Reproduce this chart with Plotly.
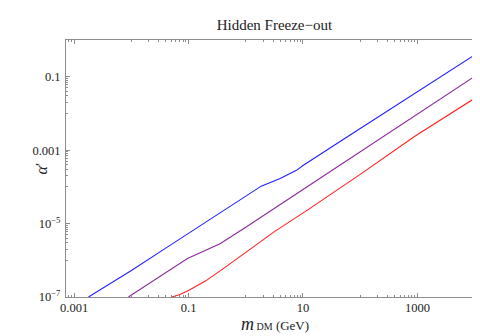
import plotly.graph_objects as go

# log10(m_DM / GeV) and log10(alpha')
blue_logm = [-2.75, -2.5, -2.0, -1.5, -1.0, -0.5, 0.0, 0.27, 0.6, 0.885, 1.0, 1.79, 4.01]
blue_loga = [-7.0, -6.76, -6.28, -5.77, -5.26, -4.76, -4.26, -3.98, -3.77, -3.55, -3.42, -2.62, -0.40]

purple_logm = [-2.052, -1.5, -1.02, -0.45, 0.0, 1.0, 2.37, 4.01]
purple_loga = [-7.0, -6.43, -5.95, -5.55, -5.10, -4.07, -2.66, -0.98]

red_logm = [-1.297, -1.15, -1.0, -0.7, -0.35, 0.04, 0.5, 1.09, 2.0, 2.955, 4.01]
red_loga = [-7.0, -6.93, -6.82, -6.56, -6.18, -5.74, -5.22, -4.62, -3.66, -2.62, -1.58]

x_ticks = [1e-3, 1e-1, 1e1, 1e3]
x_labels = ["0.001", "0.1", "10", "1000"]
y_ticks = [1e-7, 1e-5, 1e-3, 1e-1]
y_labels = ["10<sup>−7</sup>", "10<sup>−5</sup>", "0.001", "0.1"]

SERIF = "Times New Roman, Liberation Serif, DejaVu Serif, serif"
FRAME = "#8c8c8c"


def minor_vals(majors):
    # Mathematica style: minor ticks only in the decade below each major
    out = []
    for v in majors:
        out += [k * v / 10 for k in range(1, 10)]
    return out


fig = go.Figure()
for lm, la, col in [(blue_logm, blue_loga, "#2020ff"),
                    (purple_logm, purple_loga, "#8b2a9b"),
                    (red_logm, red_loga, "#ff2020")]:
    fig.add_trace(go.Scatter(
        x=[10 ** v for v in lm], y=[10 ** v for v in la],
        mode="lines", line=dict(color=col, width=1.1), showlegend=False,
    ))

axis_common = dict(
    type="log", showgrid=False, zeroline=False,
    showline=True, linecolor=FRAME, linewidth=1, mirror="allticks",
    ticks="inside", ticklen=4, tickcolor=FRAME, tickwidth=1,
    tickfont=dict(family=SERIF, size=12.5, color="#222"),
    tickmode="array",
)

fig.update_xaxes(
    range=[-3.143, 4.147], tickvals=x_ticks, ticktext=x_labels,
    ticklabelstandoff=-1,
    minor=dict(tickmode="array", tickvals=minor_vals(x_ticks + [1e5]),
               ticks="inside", ticklen=2, tickcolor=FRAME),
    **axis_common,
)
fig.update_yaxes(
    range=[-7, 0], tickvals=y_ticks, ticktext=y_labels,
    ticklabelstandoff=2,
    minor=dict(tickmode="array", tickvals=minor_vals(y_ticks + [10]),
               ticks="inside", ticklen=2, tickcolor=FRAME),
    **axis_common,
)

fig.add_annotation(
    text=("<i>m</i><span style='font-size:10px'> DM</span>"
          "<span style='font-size:13px'> (GeV)</span>"),
    xref="paper", yref="paper", x=0.5, y=-0.105, yanchor="middle",
    showarrow=False, font=dict(family=SERIF, size=18, color="#222"),
)
fig.add_annotation(
    text="<i>α</i>′", xref="paper", yref="paper", x=-0.085, y=0.5,
    textangle=-90, showarrow=False, font=dict(family=SERIF, size=16, color="#222"),
)

fig.update_layout(
    width=480, height=336,
    title=dict(text="Hidden Freeze−out", x=0.555, xanchor="center", y=0.965,
               font=dict(family=SERIF, size=15, color="#222")),
    margin=dict(l=58, r=5, t=32, b=47),
    plot_bgcolor="white", paper_bgcolor="white",
)

fig.write_html("out.html")
